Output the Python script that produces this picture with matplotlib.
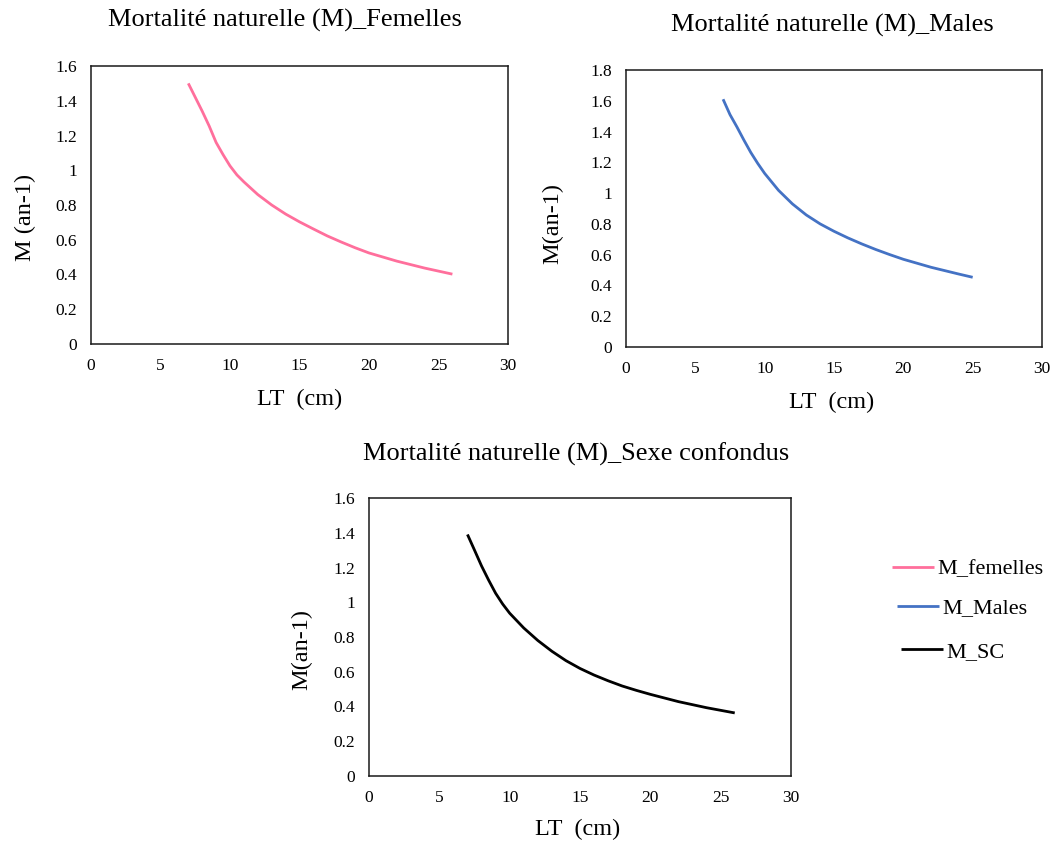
import matplotlib
matplotlib.use("Agg")
from matplotlib import pyplot as plt
from matplotlib.ticker import FuncFormatter, MultipleLocator

plt.rcParams['font.family'] = ['Liberation Serif', 'DejaVu Serif']

# natural mortality M (an-1) against total length LT (cm)
lt_fem = [7, 7.5, 8, 8.5, 9, 9.5, 10, 10.5, 11, 12, 13, 14, 15, 16, 17, 18,
          19, 20, 22, 24, 26]
m_fem = [1.50, 1.42, 1.34, 1.255, 1.16, 1.09, 1.025, 0.973, 0.933, 0.860,
         0.800, 0.748, 0.703, 0.662, 0.622, 0.587, 0.554, 0.524, 0.477,
         0.437, 0.402]

lt_males = [7, 7.5, 8, 8.5, 9, 9.5, 10, 11, 12, 13, 14, 15, 16, 17, 18, 19,
            20, 22, 24, 25]
m_males = [1.61, 1.51, 1.43, 1.345, 1.264, 1.193, 1.128, 1.018, 0.930, 0.858,
           0.800, 0.752, 0.709, 0.670, 0.634, 0.601, 0.570, 0.518, 0.474,
           0.453]

lt_sc = [7, 7.5, 8, 8.5, 9, 9.5, 10, 11, 12, 13, 14, 15, 16, 17, 18, 19, 20,
         22, 24, 26]
m_sc = [1.39, 1.30, 1.209, 1.128, 1.052, 0.990, 0.937, 0.852, 0.780, 0.718,
        0.664, 0.619, 0.581, 0.548, 0.518, 0.493, 0.470, 0.428, 0.393, 0.363]

titles = ['Mortalité naturelle (M)_Femelles',
          'Mortalité naturelle (M)_Males',
          'Mortalité naturelle (M)_Sexe confondus']
labels = ['M_femelles', 'M_Males', 'M_SC']
colors = ['#FF6F9C', '#4472C4', '#000000']

W, H = 1056, 843
fig = plt.figure(figsize=(W / 100, H / 100), dpi=100)


def px_axes(l, t, r, b):
    return fig.add_axes([l / W, 1 - b / H, (r - l) / W, (b - t) / H])


def style(ax, ymax):
    ax.set_xlim(0, 30)
    ax.set_ylim(0, ymax)
    ax.xaxis.set_major_locator(MultipleLocator(5))
    ax.yaxis.set_major_locator(MultipleLocator(0.2))
    fmt = FuncFormatter(lambda v, p: f"{round(v, 2):g}")
    ax.xaxis.set_major_formatter(fmt)
    ax.yaxis.set_major_formatter(fmt)
    ax.tick_params(length=0, labelsize=12.5, pad=10)
    for s in ax.spines.values():
        s.set_linewidth(1.1)
        s.set_color('#1a1a1a')


ax1 = px_axes(91, 66, 508, 344)
ax2 = px_axes(626, 70, 1042, 347)
ax3 = px_axes(369, 498, 791, 776)

l1, = ax1.plot(lt_fem, m_fem, color=colors[0], lw=2.0, solid_capstyle='butt')
l2, = ax2.plot(lt_males, m_males, color=colors[1], lw=2.0, solid_capstyle='butt')
l3, = ax3.plot(lt_sc, m_sc, color=colors[2], lw=2.0, solid_capstyle='butt')

style(ax1, 1.6)
style(ax2, 1.8)
style(ax3, 1.6)

# titles and axis labels
fig.text(285 / W, 1 - 27 / H, titles[0], ha='center', va='baseline', fontsize=19)
fig.text(832 / W, 1 - 32 / H, titles[1], ha='center', va='baseline', fontsize=19)
fig.text(576 / W, 1 - 461 / H, titles[2], ha='center', va='baseline', fontsize=19)

fig.text(300 / W, 1 - 405 / H, 'LT  (cm)', ha='center', va='baseline', fontsize=17.5)
fig.text(832 / W, 1 - 408 / H, 'LT  (cm)', ha='center', va='baseline', fontsize=17.5)
fig.text(578 / W, 1 - 835 / H, 'LT  (cm)', ha='center', va='baseline', fontsize=17.5)

fig.text(25 / W, 1 - 217 / H, 'M (an-1)', rotation=90, ha='center', va='center', fontsize=17.5)
fig.text(553 / W, 1 - 224 / H, 'M(an-1)', rotation=90, ha='center', va='center', fontsize=17.5)
fig.text(302 / W, 1 - 650 / H, 'M(an-1)', rotation=90, ha='center', va='center', fontsize=17.5)

# legend entries, slightly staggered
for h, lab, x, y in [(l1, labels[0], 892, 569), (l2, labels[1], 897, 608), (l3, labels[2], 901, 652)]:
    fig.legend([h], [lab], loc='center left', bbox_to_anchor=(x / W, 1 - y / H),
               frameon=False, fontsize=16, handlelength=1.9, handletextpad=0.15,
               borderpad=0, borderaxespad=0)

fig.savefig('out.png', dpi=100)
